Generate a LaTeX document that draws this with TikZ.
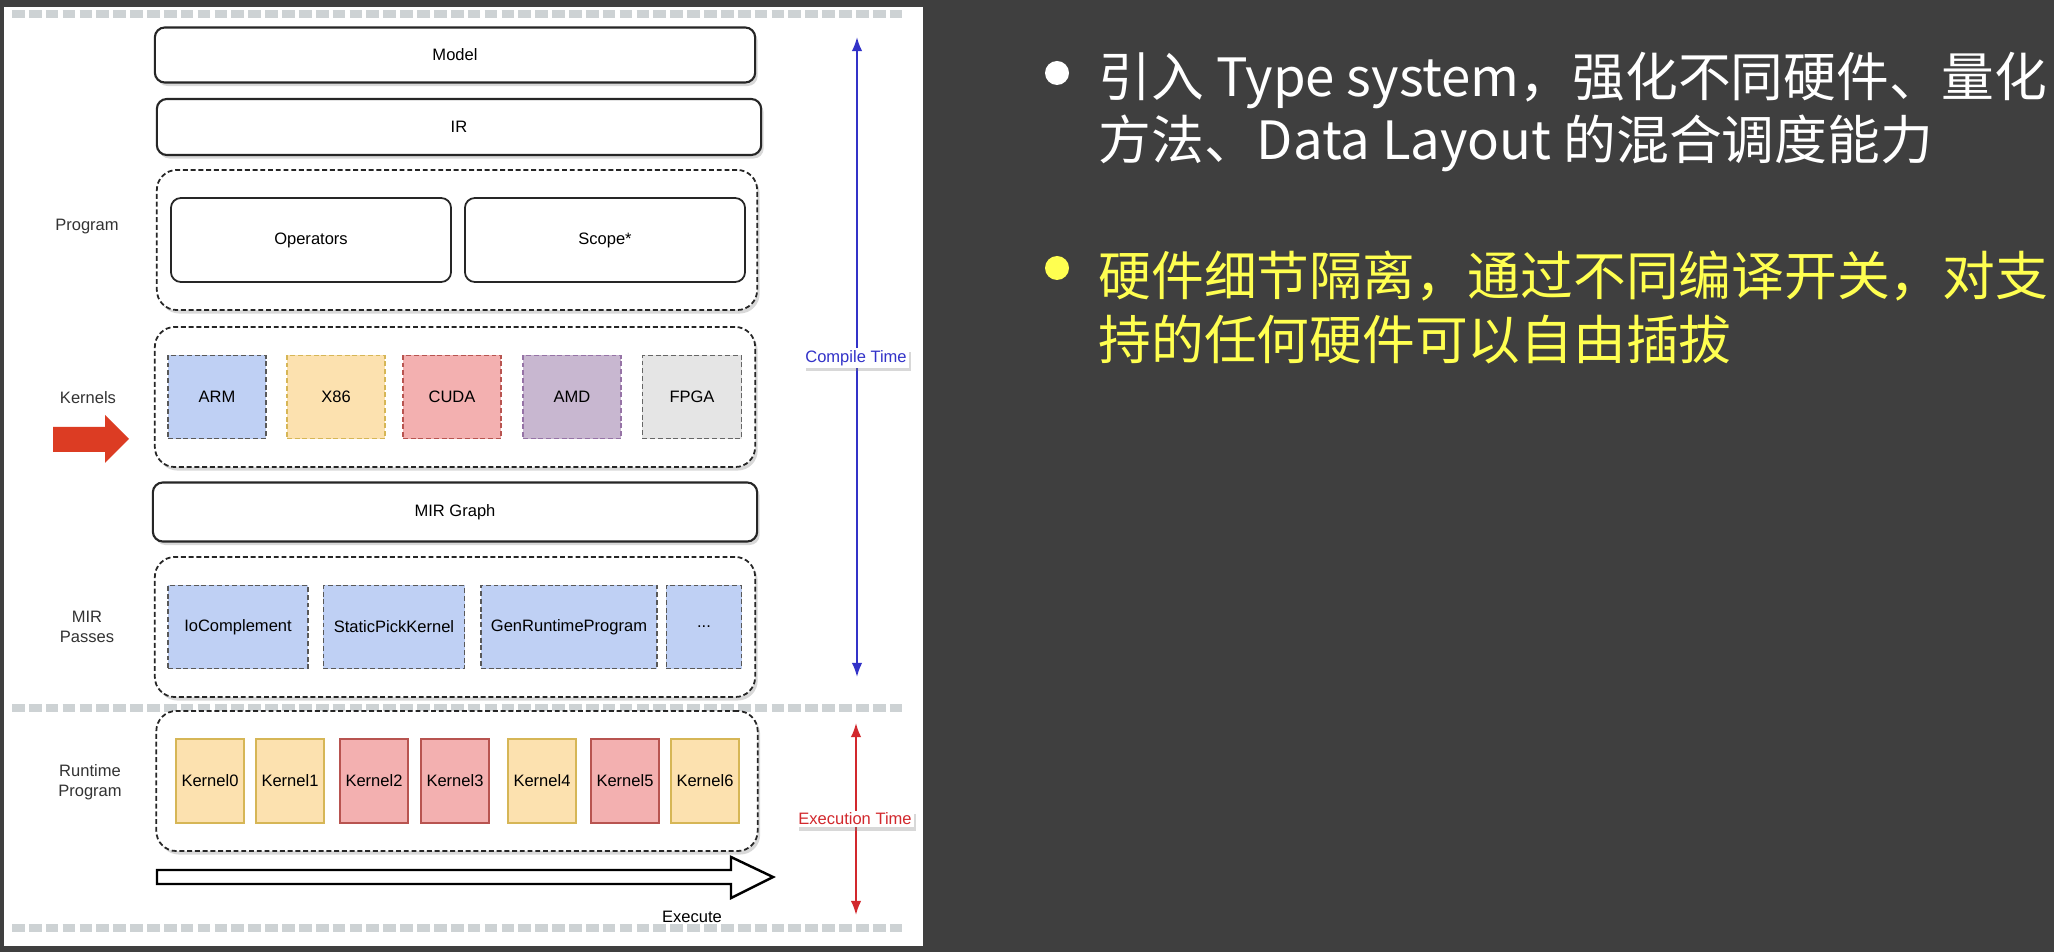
\documentclass[tikz,border=0pt]{standalone}
\usepackage{fontspec}
\setmainfont{Liberation Sans}
\newfontfamily\cjk{Noto Sans CJK SC}
\usetikzlibrary{arrows.meta,shadows}

\definecolor{slidebg}{RGB}{63,63,63}
\definecolor{hwblue}{RGB}{191,208,244}
\definecolor{hwyellow}{RGB}{252,225,175}
\definecolor{hwred}{RGB}{243,176,176}
\definecolor{hwpurple}{RGB}{200,183,208}
\definecolor{hwgray}{RGB}{229,229,229}
\definecolor{lineyellow}{RGB}{214,182,86}
\definecolor{linered}{RGB}{184,84,80}
\definecolor{linepurple}{RGB}{150,115,166}
\definecolor{lineblue}{RGB}{108,142,191}
\definecolor{stripegray}{RGB}{205,210,212}
\definecolor{timeblue}{RGB}{50,50,200}
\definecolor{timered}{RGB}{210,40,45}
\definecolor{arrowred}{RGB}{220,60,35}
\definecolor{noteyellow}{RGB}{255,255,80}

\begin{document}
\begin{tikzpicture}[x=0.01cm, y=-0.01cm,
        every node/.style={font=\fontsize{4.7}{5.6}\selectfont, inner sep=0pt},
        boxshadow/.style={drop shadow={shadow xshift=0.025cm, shadow yshift=-0.035cm, opacity=0.3}},
        layer/.style={draw=black!85, line width=0.6pt, rounded corners=0.1cm, fill=white, minimum width=6cm, boxshadow},
        group/.style={draw=black!85, line width=0.5pt, dash pattern=on 1.4pt off 0.8pt, rounded corners=0.2cm, fill=white, minimum width=6cm, minimum height=1.4cm, boxshadow},
        inner/.style={draw=black!85, line width=0.5pt, rounded corners=0.1cm, minimum width=2.8cm, minimum height=0.84cm},
        hw/.style={line width=0.5pt, dash pattern=on 1.4pt off 0.8pt, minimum height=0.83cm},
        kern/.style={line width=0.5pt, minimum width=0.68cm, minimum height=0.84cm},
        sidelabel/.style={align=center, text=black!80},
        stripe/.style={line width=2.2pt, draw=stripegray, dash pattern=on 3.6pt off 1.2pt},
        timelabel/.style={fill=white, inner sep=0.6pt, boxshadow},
        note/.style={anchor=west, font=\cjk\fontsize{15}{17}\selectfont}]
        \useasboundingbox (0,0) rectangle (2054,952);
        \fill[slidebg] (0,0) rectangle (2054,952);
        \fill[white] (4,7) rectangle (923,946);

        % separators
        \draw[stripe] (12,14) -- (905,14);
        \draw[stripe] (12,708) -- (905,708);
        \draw[stripe] (12,928) -- (905,928);

        % compile time layers
        \node[layer, minimum height=0.55cm] (model) at (455,55) {Model};
        \node[layer, minimum width=6.04cm, minimum height=0.56cm] (ir) at (459,127) {IR};

        \node[group] (program) at (457,240) {};
        \node[inner] (ops) at (311,240) {Operators};
        \node[inner] (scope) at (605,240) {Scope*};

        \node[group] (kernels) at (455,397) {};
        \node[hw, fill=hwblue, draw=black!65, minimum width=0.98cm] (arm) at (217,397) {ARM};
        \node[hw, fill=hwyellow, draw=lineyellow, minimum width=0.98cm] (x86) at (336,397) {X86};
        \node[hw, fill=hwred, draw=linered, minimum width=0.98cm] (cuda) at (452,397) {CUDA};
        \node[hw, fill=hwpurple, draw=linepurple, minimum width=0.98cm] (amd) at (572,397) {AMD};
        \node[hw, fill=hwgray, draw=black!60, minimum width=0.99cm] (fpga) at (692,397) {FPGA};

        \node[layer, minimum width=6.04cm, minimum height=0.59cm] (mirgraph) at (455,512) {MIR Graph};

        \node[group] (passes) at (455,627) {};
        \node[hw, fill=hwblue, draw=black!65, minimum width=1.40cm] (iocomp) at (238,627) {IoComplement};
        \node[hw, fill=hwblue, draw=black!65, minimum width=1.41cm] (pick) at (394,627) {StaticPickKernel};
        \node[hw, fill=hwblue, draw=black!65, minimum width=1.76cm] (genrt) at (569,627) {GenRuntimeProgram};
        \node[hw, fill=hwblue, draw=black!65, minimum width=0.75cm] (more) at (704,627) {...};

        % execution time
        \node[group, minimum width=6.01cm] (runtime) at (457,781) {};
        \foreach \i/\xx/\col/\edge in {0/210/hwyellow/lineyellow, 1/290/hwyellow/lineyellow,
                2/374/hwred/linered, 3/455/hwred/linered, 4/542/hwyellow/lineyellow,
                5/625/hwred/linered, 6/705/hwyellow/lineyellow}
            \node[kern, fill=\col, draw=\edge] (k\i) at (\xx,781) {Kernel\i};

        \draw[fill=white, line width=0.7pt, line join=miter] (157,870) -- (731,870) -- (731,857) -- (773,877)
            -- (731,898) -- (731,884) -- (157,884) -- cycle;
        \node (exec) at (692,917) {Execute};

        % side labels
        \node[sidelabel] (lprog) at (87,227) {Program};
        \node[sidelabel] (lkern) at (88,398) {Kernels};
        \node[sidelabel] (lpass) at (87,627) {MIR\\Passes};
        \node[sidelabel] (lrun) at (90,782) {Runtime\\Program};
        \fill[arrowred] (53,427) -- (105,427) -- (105,415) -- (129,439) -- (105,463) -- (105,452) -- (53,452) -- cycle;

        % time axes
        \coordinate (ctop) at (857,37);
        \coordinate (cbot) at (857,677);
        \draw[timeblue, line width=0.6pt, {Latex[length=4pt,width=3pt]}-{Latex[length=4pt,width=3pt]}] (cbot) -- (ctop);
        \node[timelabel, text=timeblue] (ctime) at (856,358) {Compile Time};
        \coordinate (etop) at (856,723);
        \coordinate (ebot) at (856,915);
        \draw[timered, line width=0.6pt, {Latex[length=4pt,width=3pt]}-{Latex[length=4pt,width=3pt]}] (ebot) -- (etop);
        \node[timelabel, text=timered] (etime) at (855,819) {Execution Time};

        % notes
        \fill[white] (1057,73) circle (12);
        \node[note, text=white] (n1a) at (1098,81) {引入 Type system，强化不同硬件、量化};
        \node[note, text=white] (n1b) at (1098,143) {方法、Data Layout 的混合调度能力};
        \fill[noteyellow] (1057,268) circle (12);
        \node[note, text=noteyellow] (n2a) at (1098,276) {硬件细节隔离，通过不同编译开关，对支};
        \node[note, text=noteyellow] (n2b) at (1098,340) {持的任何硬件可以自由插拔};
    \end{tikzpicture}
\end{document}
